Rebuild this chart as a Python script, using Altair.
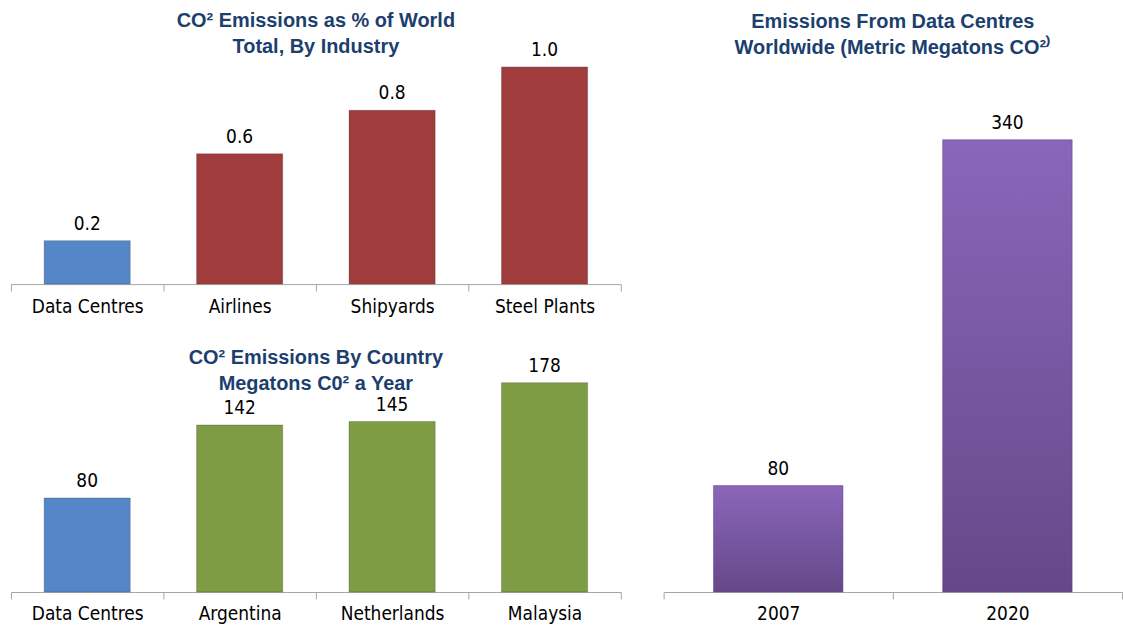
import altair as alt
import pandas as pd

# ---- data ----
industries = ["Data Centres", "Airlines", "Shipyards", "Steel Plants"]
industry_pct = [0.2, 0.6, 0.8, 1.0]
industry_text = ["0.2", "0.6", "0.8", "1.0"]
industry_group = ["DC-ind", "Industry", "Industry", "Industry"]

countries = ["Data Centres", "Argentina", "Netherlands", "Malaysia"]
country_mt = [80, 142, 145, 178]
country_text = ["80", "142", "145", "178"]
country_group = ["DC-cty", "Country", "Country", "Country"]

years = ["2007", "2020"]
dc_mt = [80, 340]
dc_text = ["80", "340"]

FONT = "Liberation Sans Narrow, DejaVu Sans Condensed, Liberation Sans, sans-serif"
TFONT = "Liberation Sans, sans-serif"
TITLE_COLOR = "#1C3F6E"

df1 = pd.DataFrame({"cat": industries, "val": industry_pct, "lbl": industry_text, "grp": industry_group})
df2 = pd.DataFrame({"cat": countries, "val": country_mt, "lbl": country_text, "grp": country_group})
df3 = pd.DataFrame({"cat": years, "val": dc_mt, "lbl": dc_text})


def panel(df, cats, dmax, width, height, title_lines, title_offset, cdomain=None, colors=None, gradient=None):
    base = alt.Chart(df).encode(
        x=alt.X("cat:N", sort=cats, title=None,
                scale=alt.Scale(paddingInner=0, paddingOuter=0),
                axis=alt.Axis(labelAngle=0, tickBand="extent")),
        y=alt.Y("val:Q", scale=alt.Scale(domain=[0, dmax], nice=False, zero=True), axis=None),
    )
    bw = alt.RelativeBandSize(0.565)
    if gradient is not None:
        bars = base.mark_bar(width=bw, color=gradient, stroke="#5A4080", strokeWidth=0.8, strokeOpacity=0.6)
    else:
        bars = base.mark_bar(width=bw, strokeWidth=0.8, strokeOpacity=0.35, stroke="#333333").encode(
            color=alt.Color("grp:N", scale=alt.Scale(domain=cdomain, range=colors), legend=None)
        )
    text = base.mark_text(baseline="bottom", dy=-7, fontSize=19, font=FONT, color="#000000").encode(text="lbl:N")
    return alt.layer(bars, text).properties(
        width=width, height=height,
        title=alt.TitleParams(title_lines, anchor="middle", font=TFONT, fontSize=20, fontWeight="bold",
                              color=TITLE_COLOR, lineHeight=26, offset=title_offset),
    )


top = panel(df1, industries, 1.1147, 612, 243,
            ["CO² Emissions as % of World", "Total, By Industry"], -16,
            cdomain=["DC-ind", "Industry"], colors=["#5587C8", "#A03C3B"])
bottom = panel(df2, countries, 209.3, 612, 247,
               ["CO² Emissions By Country", "Megatons C0² a Year"], -48,
               cdomain=["DC-cty", "Country"], colors=["#5587C8", "#7E9C43"])
purple = alt.Gradient(gradient="linear",
                      stops=[alt.GradientStop(color="#8A66BA", offset=0),
                             alt.GradientStop(color="#664889", offset=1)],
                      x1=0, x2=0, y1=0, y2=1)
right = panel(df3, years, 413.5, 460, 552,
              ["Emissions From Data Centres", "Worldwide (Metric Megatons CO²⁾"], -16,
              gradient=purple)

chart = alt.hconcat(
    alt.vconcat(top, bottom, spacing=30).resolve_scale(color="independent"),
    right,
    spacing=41,
).resolve_scale(color="independent").properties(
    padding={"left": 10, "top": 10, "right": 0, "bottom": 0},
    background="white",
).configure_view(stroke=None).configure_axis(
    domainColor="#A6A6A6", tickColor="#A6A6A6", tickSize=7, domainWidth=1, tickWidth=1,
    labelFont=FONT, labelFontSize=19, labelColor="#000000", labelPadding=6,
    grid=False,
)

chart.save("out.html", embed_options={"renderer": "svg", "actions": False})
